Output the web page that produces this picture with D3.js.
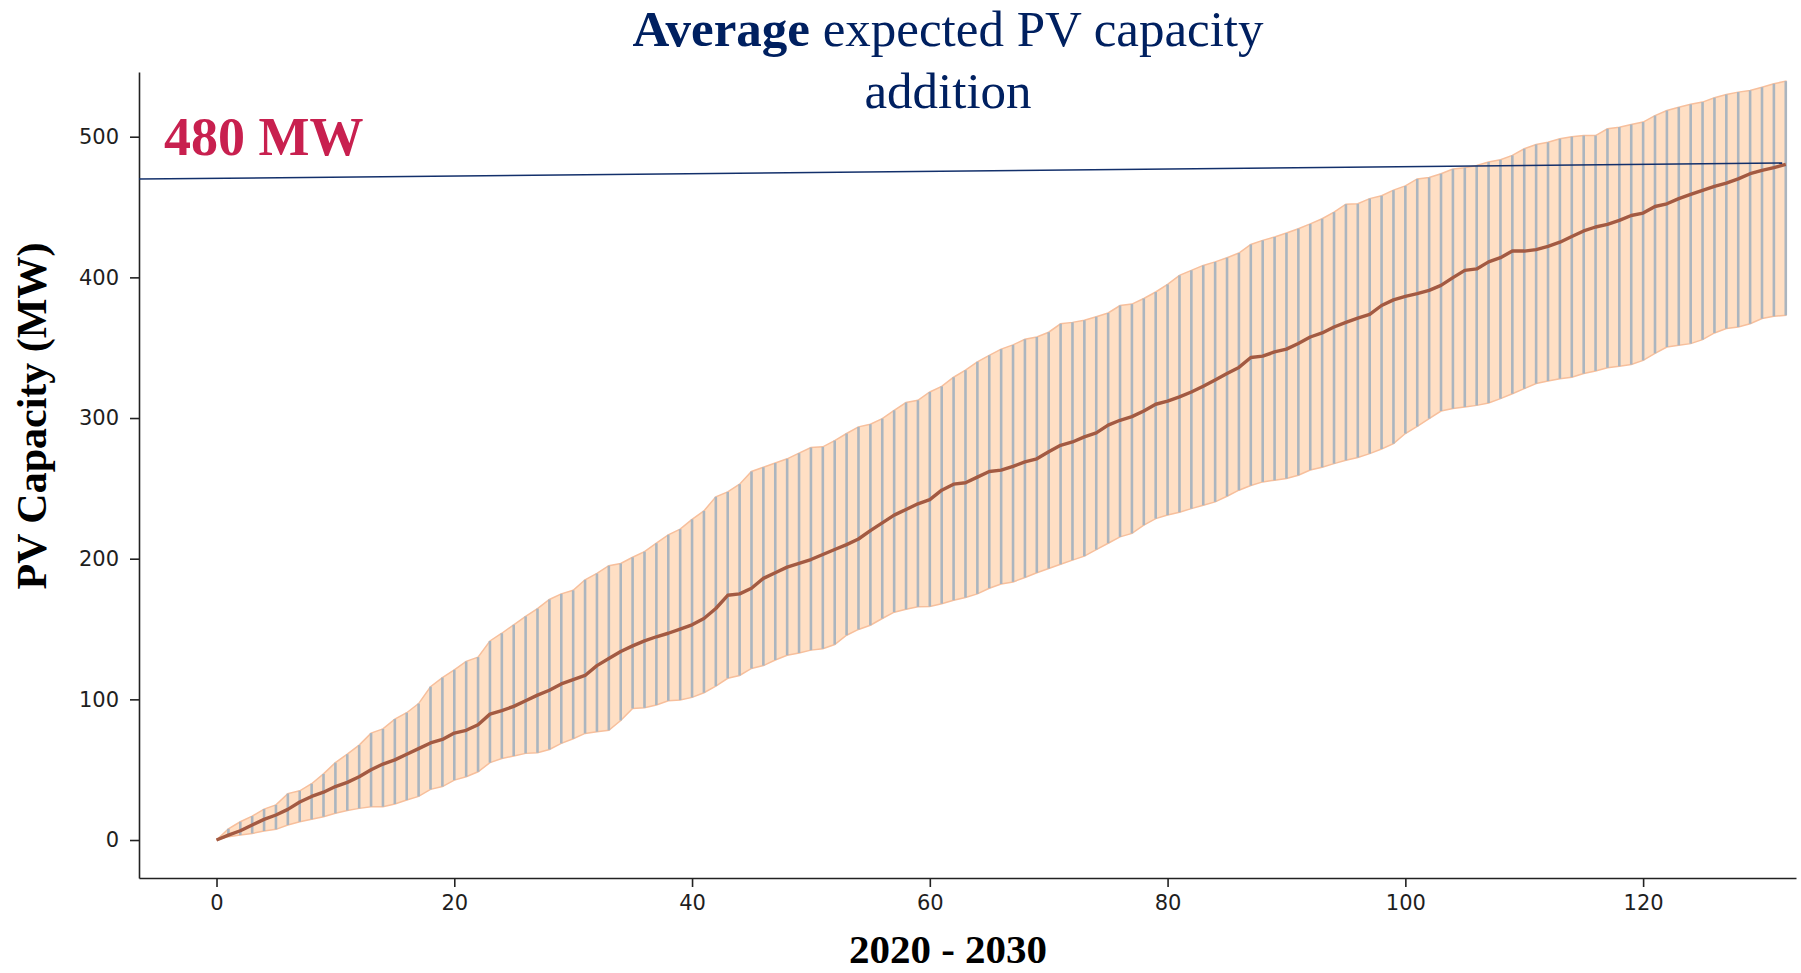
<!DOCTYPE html>
<html>
<head>
<meta charset="utf-8">
<script src="https://cdn.jsdelivr.net/npm/d3@7"></script>
<style>
  body { margin: 0; background: #fff; }
  .tick text { font-family: "DejaVu Sans", sans-serif; font-size: 21px; fill: #1e1e1e; }
  .axis path, .axis line { stroke: #222; stroke-width: 1.6px; }
</style>
</head>
<body>
<div id="chart"></div>
<script>

			//Width and height
			var w = 1801;
			var h = 973;

			//Data: month index 0..132, mean and band of expected PV capacity (MW)
			var steps = d3.range(0, 133);

			var meanMW = [
				0, 3.5, 6.6, 10.7, 14.7, 17.8, 21.8, 27, 31, 34,
				38, 41, 45, 50, 54, 57, 61, 65, 69, 71.5,
				76, 78, 82, 89.5, 92, 95, 99, 103, 106.5, 111,
				114, 117, 124, 129, 134, 138, 141.6, 144.5, 147, 150,
				153, 157.5, 164.6, 174, 175, 179, 186, 190, 194, 196.6,
				199.4, 203, 206.5, 210, 214, 220, 225.5, 231, 235, 239,
				242, 248.7, 253, 254, 258, 262, 263, 265.7, 268.8, 271,
				276, 280.6, 283, 286.6, 289.4, 295, 298.4, 301, 305, 309.8,
				312, 315, 318.5, 322.6, 327, 331.6, 336, 343, 344, 347,
				349, 353, 357.6, 360.5, 364.7, 368, 371, 373.7, 380, 384,
				386.5, 388.4, 390.8, 394.3, 399.8, 405, 406, 411, 414, 418.7,
				418.7, 419.7, 422, 425, 429, 433, 435.8, 437.7, 440.5, 444,
				445.7, 450.4, 452.3, 456, 459, 461.8, 464.7, 467, 470, 473.7,
				476, 478, 480.3
			];

			var upperMW = [
				0, 8, 13, 17, 22, 25, 33, 35, 40, 47,
				55, 61, 67.5, 76, 79, 86, 90.5, 97, 109, 115.5,
				121, 127, 130, 141.5, 147, 153, 159, 164.5, 171, 175,
				177.5, 185, 189.5, 195, 196.6, 201, 205, 211, 217, 221,
				228, 234, 244, 247.5, 253, 262, 265, 268, 271, 275,
				279, 279.5, 284, 289, 293.7, 295.6, 299.6, 305.5, 311, 312.6,
				318.5, 322.5, 329, 334, 340, 344.6, 349, 352, 356, 357.6,
				361, 367, 368, 369.5, 372, 374.7, 380, 381, 385, 389.6,
				395, 401.4, 405, 408.5, 411, 414, 417.3, 423.4, 426.3, 428.7,
				431.5, 434.6, 438, 441.7, 446.4, 452, 452.3, 456, 458, 462,
				465, 470, 471, 473.7, 477, 478, 479.6, 482, 483.6, 486.7,
				491.4, 494.5, 496, 498.5, 500, 500.8, 500.8, 505.6, 506.8, 508.7,
				510.4, 515, 518.6, 521, 523, 524.6, 527.7, 530, 531.7, 532.9,
				535.2, 537.6, 539.5
			];

			var lowerMW = [
				0, 2.4, 3.5, 4.7, 6.4, 7.6, 10.7, 13, 14.7, 16.6,
				19, 21, 22.5, 23.7, 23.7, 25.6, 28.4, 31, 36, 38,
				42.6, 45, 48.5, 55, 58, 59.7, 61.6, 62, 64.4, 68.7,
				72, 75.8, 77, 78, 85, 93.5, 94, 96, 99, 99.5,
				101.4, 104.7, 109.4, 115, 117, 122, 124, 128, 131.4, 133,
				135, 136, 139, 145.6, 149.7, 152.7, 157.5, 162, 164, 165.8,
				166, 168, 170.5, 172.4, 175, 179, 182, 183.5, 186.6, 190,
				193, 196, 199, 201.8, 206.5, 211, 215.5, 218, 223.8, 228.5,
				231, 233, 235.6, 238, 240.4, 244.4, 248.7, 252, 254.6, 255.8,
				257, 259.3, 263, 265, 267.6, 270, 272, 274.7, 278, 281.8,
				289, 294, 299.6, 305, 306.7, 307.9, 309, 310.7, 313.8, 317.3,
				320.9, 324.5, 326.3, 328, 329, 331.6, 333.5, 335.8, 336.8, 338,
				341, 346, 350.5, 351.7, 352.9, 355.7, 360.5, 363.6, 364.7, 367,
				370.7, 372.3, 373
			];

			//Tick values
			var xTicks = [0, 20, 40, 60, 80, 100, 120];
			var yTicks = [0, 100, 200, 300, 400, 500];

			//Annotation line (data units): from the y axis to the last point
			var markStart = [-6.52, 469.9];
			var markEnd = [131.7, 481.3];

			var rows = steps.map(function(s, i) {
				return { x: s, mean: meanMW[i], lo: lowerMW[i], hi: upperMW[i] };
			});

			//Set up scales
			var xScale = d3.scaleLinear()
				.domain([-6.52, 132.86])
				.range([139, 1796]);

			var yScale = d3.scaleLinear()
				.domain([-27, 546])
				.range([878, 72]);

			//Create SVG element
			var svg = d3.select("#chart")
						.append("svg")
						.attr("width", w)
						.attr("height", h);

			// band
			var band = d3.area()
				.x(function(d) { return xScale(d.x); })
				.y0(function(d) { return yScale(d.lo); })
				.y1(function(d) { return yScale(d.hi); });

			svg.append("path")
				.datum(rows)
				.attr("d", band)
				.attr("fill", "#ffdfc4")
				.attr("stroke", "#f7bf9c")
				.attr("stroke-width", 1.5);

			// error bars
			svg.append("g")
				.selectAll("line")
				.data(rows)
				.enter()
				.append("line")
				.attr("x1", function(d) { return xScale(d.x); })
				.attr("x2", function(d) { return xScale(d.x); })
				.attr("y1", function(d) { return yScale(d.lo); })
				.attr("y2", function(d) { return yScale(d.hi); })
				.attr("stroke", "#abb5bf")
				.attr("stroke-width", 2.6);

			// mean line
			var meanLine = d3.line()
				.x(function(d) { return xScale(d.x); })
				.y(function(d) { return yScale(d.mean); });

			svg.append("path")
				.datum(rows)
				.attr("d", meanLine)
				.attr("fill", "none")
				.attr("stroke", "#a35a42")
				.attr("stroke-width", 3.4)
				.attr("stroke-linejoin", "round");

			// axes
			var xAxis = d3.axisBottom(xScale)
				.tickValues(xTicks)
				.tickSize(9)
				.tickPadding(8)
				.tickSizeOuter(0);

			var yAxis = d3.axisLeft(yScale)
				.tickValues(yTicks)
				.tickSize(9)
				.tickPadding(11)
				.tickSizeOuter(0);

			svg.append("g")
				.attr("class", "x axis")
				.attr("transform", "translate(0," + yScale.range()[0] + ")")
				.call(xAxis);

			svg.append("g")
				.attr("class", "y axis")
				.attr("transform", "translate(" + xScale.range()[0] + ",0)")
				.call(yAxis);

			// annotation line
			svg.append("line")
				.attr("x1", xScale(markStart[0]))
				.attr("y1", yScale(markStart[1]))
				.attr("x2", xScale(markEnd[0]))
				.attr("y2", yScale(markEnd[1]))
				.attr("stroke", "#13306b")
				.attr("stroke-width", 1.5);

			// title
			var title = svg.append("text")
				.attr("x", 948)
				.attr("y", 46)
				.attr("text-anchor", "middle")
				.attr("font-family", "'Liberation Serif', 'Times New Roman', serif")
				.attr("font-size", 51)
				.attr("fill", "#002060");
			title.append("tspan").attr("font-weight", "bold").text("Average");
			title.append("tspan").text(" expected PV capacity");

			svg.append("text")
				.attr("x", 948)
				.attr("y", 108)
				.attr("text-anchor", "middle")
				.attr("font-family", "'Liberation Serif', 'Times New Roman', serif")
				.attr("font-size", 51)
				.attr("fill", "#002060")
				.text("addition");

			svg.append("text")
				.attr("x", 164)
				.attr("y", 155)
				.attr("font-family", "'Liberation Serif', 'Times New Roman', serif")
				.attr("font-weight", "bold")
				.attr("font-size", 54)
				.attr("fill", "#c8204f")
				.text("480 MW");

			// axis titles
			svg.append("text")
				.attr("x", 948)
				.attr("y", 963)
				.attr("text-anchor", "middle")
				.attr("font-family", "'Liberation Serif', 'Times New Roman', serif")
				.attr("font-weight", "bold")
				.attr("font-size", 41)
				.attr("fill", "#000")
				.text("2020 - 2030");

			svg.append("text")
				.attr("transform", "translate(46,416) rotate(-90)")
				.attr("text-anchor", "middle")
				.attr("font-family", "'Liberation Serif', 'Times New Roman', serif")
				.attr("font-weight", "bold")
				.attr("font-size", 42)
				.attr("fill", "#000")
				.text("PV Capacity (MW)");

</script>
</body>
</html>
